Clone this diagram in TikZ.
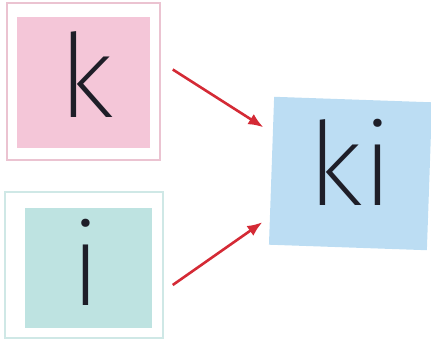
\documentclass[tikz,border=0pt]{standalone}
\usepackage{fontspec}
\usepackage{tikz}
\usetikzlibrary{arrows.meta,calc,positioning}
\newfontfamily\thinfont{Fira Sans ExtraLight}
\definecolor{pinkfill}{HTML}{F4C6D8}
\definecolor{pinkline}{HTML}{EBC3D1}
\definecolor{tealfill}{HTML}{BEE3E1}
\definecolor{tealline}{HTML}{CFE8E6}
\definecolor{bluefill}{HTML}{BCDDF3}
\definecolor{arrowred}{HTML}{D42A35}
\definecolor{ink}{HTML}{1E1E28}
\tikzset{
  frame/.style={draw,line width=1.5pt,minimum width=#1,inner sep=0pt},
  card/.style={inner sep=0pt},
  letter/.style={font=\thinfont\fontsize{116}{120}\selectfont,text=ink,inner sep=0pt,anchor=base},
  mergearrow/.style={draw=arrowred,line width=2.6pt,-{Latex[length=15pt,width=12pt]}}
}
\begin{document}
\begin{tikzpicture}[x=1pt,y=1pt]
\useasboundingbox (0,0) rectangle (431,341);
%the k card
\node[frame=153pt,draw=pinkline,minimum height=157pt] (kframe) at (83.5,259.5) {};
\node[card,fill=pinkfill,minimum width=133pt,minimum height=131pt] (kcard) at (83.5,258.5) {};
%the i card
\node[frame=158pt,draw=tealline,minimum height=146pt] (iframe) at (84,76) {};
\node[card,fill=tealfill,minimum width=127pt,minimum height=120pt] (icard) at (88.5,73) {};
%the ki card
\node[card,fill=bluefill,minimum width=158pt,minimum height=148pt,rotate=-2] (kicard) at (350.5,167.5) {};
%letters
\node[letter] (kletter) at (86,224) {k};
\node[letter] (iletter) at (86,36) {i};
\node[letter] (kiletter) at (350.5,136) {ki};
%arrows
\draw[mergearrow] ($(kframe.east)+(12,12)$) to ($(kicard.west)+(-8,43.5)$);
\draw[mergearrow] ($(iframe.east)+(9,-20)$) to ($(kicard.west)+(-9,-51.5)$);
\end{tikzpicture}
\end{document}
